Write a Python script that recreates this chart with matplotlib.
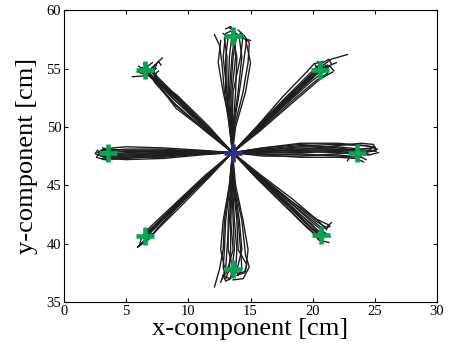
import numpy as np
import matplotlib
matplotlib.use("Agg")
import matplotlib.pyplot as plt

plt.rcParams['font.family'] = ['Liberation Serif', 'DejaVu Serif']

# start position (blue) and the eight targets (green), in cm
center = (13.55, 47.8)
target_x = [23.55, 20.6, 13.55, 6.5, 3.55, 6.5, 13.55, 20.65]
target_y = [47.78, 54.9, 57.8, 54.85, 47.75, 40.65, 37.8, 40.7]

# hand trajectories (points after the start)
right = [
    [(16, 47.9), (19, 48.0), (22, 48.0), (23.6, 47.9), (24.2, 47.7)],
    [(16, 48.2), (19, 48.6), (22, 48.6), (24.3, 48.4), (25.2, 48.1), (24.6, 47.9), (23.8, 47.9)],
    [(16, 47.6), (19, 47.4), (22, 47.4), (23.5, 47.3), (24.1, 47.0)],
    [(16, 48.0), (19, 48.3), (22, 48.3), (23.8, 48.1), (24.8, 48.2), (24.4, 47.9)],
    [(16, 47.7), (19, 47.6), (22, 47.6), (23.0, 47.5), (22.8, 47.1)],
    [(16, 48.1), (19, 48.4), (22, 48.5), (24.0, 48.4), (25.0, 48.3), (25.1, 48.0), (24.2, 47.8)],
    [(16, 47.8), (19, 47.9), (22, 47.8), (24.5, 47.6), (25.3, 47.8)],
    [(16, 47.9), (19, 48.1), (21.5, 48.1), (23.2, 47.9), (23.0, 47.6)],
    [(16, 47.5), (19, 47.5), (22, 47.7), (24.0, 47.9), (24.6, 47.6)],
    [(16, 48.2), (19, 48.5), (22, 48.2), (23.4, 48.0), (23.9, 47.5)],
    [(16, 47.85), (19, 47.8), (22, 47.9), (23.3, 47.8), (23.7, 47.4)],
    [(16, 48.05), (19, 48.2), (22, 48.1), (24.6, 48.0), (25.1, 47.9)],
    [(16, 47.65), (19, 47.7), (22, 47.5), (23.9, 47.4), (24.3, 47.2)],
    [(16, 47.95), (19, 48.05), (22, 48.4), (23.9, 48.6), (24.9, 48.5), (25.0, 48.2)],
]
left = [
    [(11, 47.85), (8, 47.9), (5, 47.9), (3.6, 47.8), (3.0, 47.6)],
    [(11, 47.7), (8, 47.5), (5, 47.3), (3.2, 47.2), (2.6, 47.4), (2.9, 47.8)],
    [(11, 47.9), (8, 48.1), (5, 48.1), (3.8, 48.0), (3.1, 48.2)],
    [(11, 47.6), (8, 47.3), (5, 47.2), (3.5, 47.3), (2.8, 47.6)],
    [(11, 47.8), (8, 47.7), (5, 47.6), (3.4, 47.5), (2.7, 47.8), (3.2, 48.1)],
    [(11, 48.0), (8, 48.2), (5, 48.3), (3.9, 48.2), (3.3, 48.0)],
    [(11, 47.75), (8, 47.6), (5, 47.5), (4.0, 47.4), (3.3, 47.3)],
    [(11, 47.7), (8, 47.4), (5, 47.4), (3.0, 47.5), (2.5, 47.7), (2.7, 48.0)],
    [(11, 47.9), (8, 47.9), (5, 47.8), (4.2, 47.7), (3.8, 47.5)],
    [(11, 47.8), (8, 47.8), (5, 47.9), (3.3, 48.0), (2.9, 47.9)],
    [(11, 47.85), (8, 47.7), (5, 47.7), (3.7, 47.6), (3.1, 47.3)],
    [(11, 47.65), (8, 47.5), (5, 47.6), (3.2, 47.7), (2.8, 47.9)],
    [(11, 47.95), (8, 48.0), (5, 48.0), (3.6, 48.1), (3.0, 48.0)],
    [(11, 47.75), (8, 47.6), (5, 47.4), (3.8, 47.3), (3.4, 47.1)],
]
up = [
    [(13.4, 50), (13.2, 53), (13.3, 56), (13.5, 57.8), (13.6, 58.4)],
    [(13.6, 50), (14.0, 53), (14.3, 56), (14.1, 57.6), (13.7, 58.1)],
    [(13.3, 50), (12.9, 53), (12.7, 55.5), (12.5, 57.0), (12.1, 57.9)],
    [(13.7, 50), (14.4, 53), (14.8, 55.5), (14.9, 57.2), (14.5, 57.8)],
    [(13.5, 50), (13.4, 53), (13.6, 56), (13.9, 57.9), (13.4, 58.6), (13.0, 58.4)],
    [(13.4, 50), (13.0, 53), (13.0, 56), (13.2, 57.7), (12.8, 58.0)],
    [(13.6, 50), (13.8, 53), (13.9, 56), (13.6, 57.5), (13.9, 58.0)],
    [(13.8, 50), (14.6, 53), (15.0, 55.5), (14.6, 57.5), (14.0, 57.8)],
    [(13.3, 50), (13.1, 53), (12.8, 56), (13.0, 58.0), (13.4, 58.2)],
    [(13.5, 50), (13.6, 53), (14.2, 56), (14.4, 57.9), (14.0, 58.3)],
    [(13.4, 50), (12.8, 53), (12.4, 55.5), (12.6, 57.4)],
    [(13.45, 50), (13.3, 53), (13.5, 56), (13.7, 57.6), (14.2, 58.0)],
    [(13.65, 50), (14.1, 53), (14.5, 56), (14.7, 57.5), (15.0, 57.4)],
    [(13.35, 50), (13.1, 53), (13.1, 56), (12.9, 57.6)],
    [(13.55, 50), (13.5, 53), (13.8, 56), (13.7, 58.2), (13.3, 58.5)],
]
down = [
    [(13.5, 45), (13.3, 42), (13.1, 39.5), (13.0, 37.8), (12.6, 36.7)],
    [(13.7, 45), (14.1, 42), (14.3, 39.5), (13.9, 37.7), (13.3, 37.0), (12.8, 37.3)],
    [(13.3, 45), (12.9, 42), (12.8, 39.5), (12.5, 37.8), (12.1, 36.3)],
    [(13.8, 45), (14.4, 42), (14.8, 39.5), (14.6, 37.6), (14.1, 37.5)],
    [(13.5, 45), (13.6, 42), (13.7, 39.5), (13.5, 37.8), (13.4, 37.0), (13.0, 36.8), (12.8, 37.3)],
    [(13.4, 45), (13.2, 42), (13.2, 39.5), (13.6, 37.9), (14.0, 37.4)],
    [(13.6, 45), (13.9, 42), (14.0, 39.5), (14.7, 38.2), (14.5, 37.5), (13.9, 37.3)],
    [(13.7, 45), (14.3, 42), (14.6, 39.0), (14.9, 38.0), (14.4, 37.0), (13.6, 36.9)],
    [(13.3, 45), (12.8, 42), (12.6, 39.5), (12.9, 38.0), (13.4, 37.6)],
    [(13.5, 45), (13.4, 42), (13.6, 39.5), (13.1, 37.6), (12.7, 37.0)],
    [(13.45, 45), (13.4, 42), (13.4, 39.5), (13.3, 37.8), (13.0, 37.0)],
    [(13.65, 45), (14.0, 42), (14.2, 39.5), (14.3, 37.9), (14.0, 37.3)],
    [(13.35, 45), (13.0, 42), (12.9, 39.5), (12.8, 38.0), (12.9, 37.5)],
    [(13.55, 45), (13.7, 42), (13.9, 39.5), (13.8, 37.6), (13.5, 37.3)],
]
up_right = [
    [(15.5, 49.7), (18.0, 52.3), (20.0, 54.3), (20.6, 54.9), (21.2, 55.3)],
    [(15.5, 49.9), (18.0, 52.6), (20.2, 54.8), (21.5, 55.8), (22.8, 56.2)],
    [(15.6, 49.6), (18.2, 52.1), (20.3, 54.0), (21.2, 54.6), (21.0, 55.3)],
    [(15.4, 49.9), (17.8, 52.5), (19.7, 54.5), (20.5, 55.3), (21.3, 55.8), (21.5, 55.4)],
    [(15.6, 49.7), (18.1, 52.4), (20.4, 54.6), (21.4, 55.2), (21.7, 54.8)],
    [(15.5, 49.8), (17.9, 52.3), (19.9, 54.2), (20.9, 55.0), (20.4, 55.6)],
    [(15.7, 49.6), (18.3, 52.0), (20.6, 54.1), (21.6, 54.7)],
    [(15.4, 49.9), (17.6, 52.6), (19.6, 54.8), (20.1, 55.4), (20.8, 55.6)],
    [(15.5, 49.7), (18.0, 52.2), (20.2, 54.4), (21.0, 55.1), (21.9, 55.5)],
    [(15.6, 49.8), (18.2, 52.4), (20.0, 54.5), (20.7, 54.7)],
    [(15.6, 49.9), (18.1, 52.6), (20.1, 54.6), (20.8, 55.2), (21.1, 55.0)],
    [(15.5, 49.6), (17.9, 52.0), (20.0, 54.0), (20.9, 54.7)],
    [(15.4, 49.8), (17.8, 52.3), (19.8, 54.4), (20.4, 55.0), (20.2, 55.3)],
]
up_left = [
    [(11.5, 49.6), (9.0, 51.9), (7.2, 54.0), (6.5, 54.85), (6.0, 55.2)],
    [(11.4, 49.9), (8.9, 52.6), (6.8, 54.4), (5.5, 54.3)],
    [(11.6, 49.5), (9.0, 51.6), (7.6, 53.6), (7.2, 54.7), (7.5, 55.5), (7.9, 55.9)],
    [(11.6, 49.9), (9.2, 52.3), (7.0, 54.2), (6.6, 55.1), (7.1, 55.5)],
    [(11.4, 49.6), (8.8, 52.0), (7.3, 53.8), (6.9, 54.6), (7.4, 55.0)],
    [(11.7, 49.8), (9.3, 52.2), (7.4, 54.1), (7.0, 55.0), (7.6, 55.6), (7.8, 55.3)],
    [(11.6, 50.1), (9.1, 52.7), (7.1, 54.3), (6.2, 54.6)],
    [(11.4, 50.0), (8.7, 52.9), (6.7, 54.5), (5.9, 54.7), (6.3, 55.1)],
    [(11.6, 49.7), (9.4, 52.0), (7.7, 53.7), (7.3, 54.5), (7.6, 54.8)],
    [(11.5, 49.8), (9.0, 52.2), (7.2, 54.1), (6.6, 54.6)],
    [(11.6, 49.9), (9.2, 52.4), (7.3, 54.4), (6.8, 55.0), (6.4, 55.4)],
    [(11.4, 49.8), (8.9, 52.3), (7.0, 54.5), (6.3, 54.9)],
    [(11.5, 50.0), (9.1, 52.6), (7.5, 54.3), (7.1, 54.9), (7.3, 55.3)],
]
down_left = [
    [(11.5, 45.8), (9.0, 43.3), (7.2, 41.4), (6.5, 40.65)],
    [(11.6, 45.6), (9.2, 43.0), (7.3, 41.0), (6.2, 39.9), (5.9, 39.7), (6.2, 40.0), (7.0, 40.9)],
    [(11.4, 45.9), (8.9, 43.4), (7.0, 41.5), (6.4, 40.8)],
    [(11.5, 45.7), (9.1, 43.1), (7.5, 41.3), (6.9, 40.5), (6.6, 40.1)],
    [(11.6, 45.8), (9.3, 43.4), (7.4, 41.5), (6.8, 40.9)],
    [(11.4, 45.7), (8.8, 43.1), (6.9, 41.1), (6.2, 40.4), (6.1, 40.0)],
    [(11.5, 45.8), (9.0, 43.2), (7.1, 41.2), (6.6, 40.4)],
    [(11.6, 45.9), (9.2, 43.5), (7.6, 41.8), (7.0, 41.2)],
    [(11.5, 45.7), (9.1, 43.3), (7.3, 41.3), (6.7, 40.7)],
    [(11.4, 45.8), (9.0, 43.4), (7.2, 41.5), (6.6, 40.9), (6.3, 40.5)],
    [(11.6, 45.7), (9.1, 43.2), (7.4, 41.1), (6.8, 40.4)],
]
down_right = [
    [(15.6, 45.7), (18.0, 43.3), (19.9, 41.4), (20.65, 40.7)],
    [(15.7, 45.9), (18.2, 43.7), (20.3, 42.1), (21.3, 41.6), (21.1, 41.2)],
    [(15.5, 45.6), (17.9, 43.1), (19.8, 41.2), (20.5, 40.3), (21.3, 40.1)],
    [(15.7, 45.8), (18.2, 43.5), (20.1, 41.7), (20.9, 41.0), (21.4, 40.6)],
    [(15.6, 45.7), (18.0, 43.4), (20.0, 41.6), (20.4, 41.0), (20.1, 40.6)],
    [(15.8, 45.9), (18.4, 43.8), (20.4, 42.0), (21.0, 41.3), (21.4, 41.5)],
    [(15.5, 45.6), (17.8, 43.2), (19.6, 41.3), (20.2, 40.8), (20.8, 40.3)],
    [(15.6, 45.8), (18.1, 43.6), (20.2, 41.8), (20.8, 41.3), (20.9, 40.5)],
    [(15.7, 45.7), (18.1, 43.3), (19.9, 41.3), (20.6, 40.6), (21.0, 40.9)],
    [(15.6, 45.8), (18.1, 43.4), (20.0, 41.5), (20.7, 40.9), (20.5, 40.4)],
    [(15.7, 45.8), (18.3, 43.6), (20.3, 41.9), (21.1, 41.4), (21.5, 41.8)],
    [(15.5, 45.7), (17.9, 43.3), (19.8, 41.4), (20.3, 40.9)],
]

fig = plt.figure(figsize=(4.51, 3.5), dpi=100)
ax = fig.add_axes([0.142, 0.137, 0.827, 0.834])

for group in [right, up_right, up, up_left, left, down_left, down, down_right]:
    for traj in group:
        pts = np.array([center] + traj)
        ax.plot(pts[:, 0], pts[:, 1], color='#1e1e1e', lw=1.0)

ax.plot(target_x, target_y, '+', color='#00a651', ms=13, mew=3.3)
ax.plot(center[0], center[1], '+', color='#2e3192', ms=13, mew=3.3)

ax.set_xlim(0, 30)
ax.set_ylim(35, 60)
ax.set_xticks(range(0, 31, 5))
ax.set_yticks(range(35, 61, 5))
ax.tick_params(direction='in', top=True, right=True, length=3, labelsize=10.5, pad=2)
ax.set_xlabel('x-component [cm]', fontsize=19, labelpad=0)
ax.set_ylabel('y-component [cm]', fontsize=19, labelpad=6)

fig.savefig('out.png', dpi=100)
